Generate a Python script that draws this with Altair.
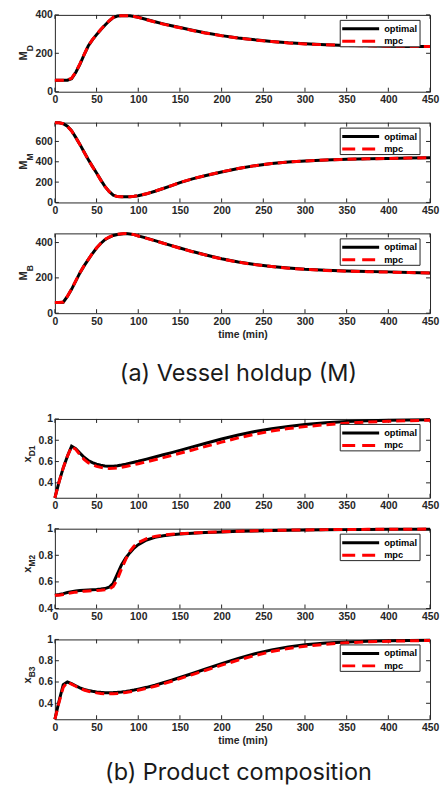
import altair as alt
import pandas as pd

# ---------------- data ----------------
T = [0, 5, 10, 15, 20, 25, 30, 35, 40, 45, 50, 55, 60, 65, 70, 75, 80, 85, 90, 95,
     100, 110, 120, 130, 140, 150, 165, 180, 200, 220, 240, 260, 280, 300, 325, 350,
     375, 400, 425, 450]

MD_OPT = [60, 60, 60, 60, 68, 100, 143, 192, 238, 270, 297, 323, 346, 368, 386, 394,
          396, 396, 395, 392, 388, 376, 364, 353, 343, 334, 320, 307, 292, 280, 270,
          262, 255, 250, 245, 241, 239, 237, 236, 235]
MD_MPC = [60, 60, 60, 61, 70, 102, 145, 193, 238, 271, 298, 324, 347, 369, 387, 395,
          396, 396, 395, 392, 387, 375, 363, 352, 342, 333, 319, 306, 291, 279, 269,
          261, 254, 249, 244, 241, 239, 237, 236, 235]

MM_OPT = [785, 783, 775, 750, 705, 640, 571, 497, 423, 355, 290, 222, 158, 108, 72, 58,
          56, 56, 57, 60, 66, 85, 110, 137, 165, 195, 232, 262, 300, 333, 362, 383,
          398, 408, 418, 424, 429, 433, 436, 439]
MM_MPC = [785, 783, 774, 748, 703, 638, 569, 495, 421, 353, 288, 220, 157, 107, 71, 58,
          56, 56, 57, 60, 67, 86, 111, 138, 166, 196, 233, 263, 301, 334, 362, 383,
          398, 408, 418, 424, 429, 433, 436, 439]

MB_OPT = [60, 60, 62, 95, 135, 182, 228, 268, 303, 338, 369, 395, 416, 430, 440, 446,
          449, 451, 449, 445, 438, 425, 411, 397, 383, 369, 349, 331, 308, 290, 276,
          265, 256, 249, 243, 239, 236, 234, 231, 228]
MB_MPC = [60, 60, 63, 96, 136, 183, 229, 269, 304, 339, 370, 396, 417, 431, 441, 447,
          450, 451, 449, 445, 437, 424, 410, 396, 382, 368, 348, 330, 307, 289, 275,
          264, 255, 248, 242, 238, 235, 233, 230, 228]

XD_OPT = [0.26, 0.41, 0.54, 0.65, 0.745, 0.72, 0.68, 0.64, 0.61, 0.59, 0.575, 0.565,
          0.558, 0.555, 0.556, 0.56, 0.567, 0.575, 0.585, 0.594, 0.603, 0.623, 0.643,
          0.664, 0.684, 0.705, 0.738, 0.770, 0.812, 0.850, 0.882, 0.908, 0.930, 0.948,
          0.964, 0.975, 0.982, 0.987, 0.990, 0.992]
XD_MPC = [0.26, 0.41, 0.54, 0.65, 0.74, 0.715, 0.665, 0.62, 0.59, 0.57, 0.555, 0.545,
          0.538, 0.535, 0.536, 0.54, 0.546, 0.553, 0.562, 0.571, 0.580, 0.598, 0.617,
          0.637, 0.657, 0.678, 0.709, 0.740, 0.782, 0.822, 0.857, 0.886, 0.910, 0.928,
          0.946, 0.960, 0.970, 0.978, 0.984, 0.988]

XM_OPT = [0.50, 0.505, 0.512, 0.52, 0.527, 0.532, 0.535, 0.537, 0.539, 0.541, 0.543,
          0.546, 0.55, 0.56, 0.59, 0.66, 0.73, 0.78, 0.82, 0.855, 0.88, 0.915, 0.935,
          0.947, 0.955, 0.96, 0.966, 0.971, 0.976, 0.980, 0.983, 0.986, 0.988, 0.99,
          0.992, 0.993, 0.994, 0.995, 0.996, 0.996]
XM_MPC = [0.50, 0.50, 0.505, 0.512, 0.518, 0.523, 0.527, 0.53, 0.532, 0.534, 0.536,
          0.538, 0.541, 0.545, 0.565, 0.62, 0.70, 0.77, 0.83, 0.87, 0.895, 0.925, 0.942,
          0.952, 0.958, 0.962, 0.967, 0.972, 0.977, 0.981, 0.984, 0.987, 0.989, 0.991,
          0.993, 0.994, 0.995, 0.996, 0.996, 0.997]

XB_OPT = [0.25, 0.42, 0.575, 0.60, 0.585, 0.565, 0.545, 0.53, 0.52, 0.513, 0.507, 0.503,
          0.50, 0.50, 0.501, 0.503, 0.507, 0.512, 0.518, 0.525, 0.533, 0.55, 0.57, 0.593,
          0.617, 0.642, 0.68, 0.72, 0.772, 0.822, 0.866, 0.902, 0.930, 0.950, 0.966,
          0.977, 0.984, 0.988, 0.991, 0.993]
XB_MPC = [0.25, 0.41, 0.55, 0.60, 0.58, 0.56, 0.54, 0.525, 0.513, 0.505, 0.498, 0.493,
          0.49, 0.489, 0.49, 0.493, 0.497, 0.502, 0.508, 0.515, 0.523, 0.54, 0.56, 0.583,
          0.607, 0.632, 0.67, 0.708, 0.758, 0.806, 0.849, 0.886, 0.915, 0.936, 0.955,
          0.968, 0.977, 0.983, 0.987, 0.990]

X_TICKS = [0, 50, 100, 150, 200, 250, 300, 350, 400, 450]
X_TITLE = "time (min)"
LEGEND = ["optimal", "mpc"]
CAPTIONS = ["(a) Vessel holdup (M)", "(b) Product composition"]
Y_MAIN = ["M", "M", "M", "x", "x", "x"]
Y_SUB = ["D", "M", "B", "D1", "M2", "B3"]
Y_TICKS = [[0, 200, 400], [0, 200, 400, 600], [0, 200, 400],
           [0.4, 0.6, 0.8, 1], [0.4, 0.6, 0.8, 1], [0.4, 0.6, 0.8, 1]]
Y_DOMAINS = [[0, 400], [0, 785], [0, 452], [0.26, 1], [0.4, 1], [0.25, 1]]
SERIES = [(MD_OPT, MD_MPC), (MM_OPT, MM_MPC), (MB_OPT, MB_MPC),
          (XD_OPT, XD_MPC), (XM_OPT, XM_MPC), (XB_OPT, XB_MPC)]

# ---------------- styling ----------------
W = 376
HEIGHTS = [77, 80, 80, 79, 80, 80]
INK = "#262626"
FONT = "Liberation Sans"
ONE = pd.DataFrame({"k": [0]})


def panel(i):
    h = HEIGHTS[i]
    opt, mpc = SERIES[i]
    n = len(T)
    df = pd.DataFrame({"t": T + T, "v": opt + mpc,
                       "s": [LEGEND[0]] * n + [LEGEND[1]] * n})
    is_m = Y_MAIN[i] == "M"
    xaxis_kw = dict(values=X_TICKS, format="d", labelFlush=False, labelPadding=3,
                    titlePadding=3)
    xaxis_kw["title"] = X_TITLE if i in (2, 5) else None
    xenc = alt.X("t:Q", scale=alt.Scale(domain=[0, 450], nice=False, zero=False),
                 axis=alt.Axis(**xaxis_kw))
    yenc = alt.Y("v:Q", scale=alt.Scale(domain=Y_DOMAINS[i], nice=False, zero=False),
                 axis=alt.Axis(values=Y_TICKS[i], format="d" if is_m else "~g",
                               title=None, labelPadding=2.5))

    base = alt.Chart(df)
    opt_line = base.transform_filter(alt.datum.s == LEGEND[0]).mark_line(
        color="#000000", strokeWidth=3).encode(x=xenc, y=yenc)
    mpc_line = base.transform_filter(alt.datum.s == LEGEND[1]).mark_line(
        color="#ff0000", strokeWidth=3, strokeDash=[9, 5]).encode(x=xenc, y=yenc)

    xt = alt.Chart(pd.DataFrame({"t": X_TICKS}))
    yt = alt.Chart(pd.DataFrame({"v": Y_TICKS[i]}))
    tick_style = dict(color=INK, strokeWidth=1)
    ticks = [
        xt.mark_rule(**tick_style).encode(x=xenc, y=alt.value(h), y2=alt.value(h - 4)),
        xt.mark_rule(**tick_style).encode(x=xenc, y=alt.value(0), y2=alt.value(4)),
        yt.mark_rule(**tick_style).encode(y=yenc, x=alt.value(0), x2=alt.value(4)),
        yt.mark_rule(**tick_style).encode(y=yenc, x=alt.value(W - 4), x2=alt.value(W)),
    ]

    c = alt.Chart(ONE)
    box = c.mark_rect(fill="white", stroke=INK, strokeWidth=1).encode(
        x=alt.value(W - 90), x2=alt.value(W - 10), y=alt.value(5.5), y2=alt.value(32))
    leg1 = c.mark_rule(color="#000000", strokeWidth=3).encode(
        x=alt.value(W - 88), x2=alt.value(W - 51), y=alt.value(14))
    leg2 = c.mark_rule(color="#ff0000", strokeWidth=3, strokeDash=[13, 7]).encode(
        x=alt.value(W - 88), x2=alt.value(W - 51), y=alt.value(26.5))
    txt_style = dict(font=FONT, fontWeight="bold", fontSize=9.3, color="#000000",
                     align="left", baseline="middle")
    t1 = c.mark_text(text=LEGEND[0], **txt_style).encode(
        x=alt.value(W - 46), y=alt.value(14))
    t2 = c.mark_text(text=LEGEND[1], **txt_style).encode(
        x=alt.value(W - 46), y=alt.value(26.5))

    ymid = h / 2 - 2
    main_x = -28 if is_m else -24
    sub_x = -21.5 if is_m else -20
    ytitle_main = c.mark_text(text=Y_MAIN[i], font=FONT, fontWeight="bold", fontSize=11,
                              color=INK, angle=270, align="right",
                              baseline="alphabetic").encode(
        x=alt.value(main_x), y=alt.value(ymid))
    ytitle_sub = c.mark_text(text=Y_SUB[i], font=FONT, fontWeight="bold", fontSize=8.5,
                             color=INK, angle=270, align="left",
                             baseline="alphabetic").encode(
        x=alt.value(sub_x), y=alt.value(ymid))

    return alt.layer(*ticks, opt_line, mpc_line, box, leg1, leg2, t1, t2,
                     ytitle_main, ytitle_sub).properties(width=W, height=h)


def spacer(text, h, y):
    return alt.Chart(ONE).mark_text(
        text=text, font="Inter", fontSize=23.5, color="#1a1a1a", align="center",
        baseline="middle").encode(x=alt.value(184), y=alt.value(y)).properties(
        width=W, height=h, view=alt.ViewBackground(strokeOpacity=0))


charts = [panel(0), panel(1), panel(2), spacer(CAPTIONS[0], 44, 30),
          panel(3), panel(4), panel(5), spacer(CAPTIONS[1], 20, 22.5)]

chart = alt.vconcat(*charts, spacing=31, bounds="flush").properties(
    padding={"top": 0, "left": 9, "right": 0, "bottom": 0},
    background="white",
).configure_view(stroke=INK, strokeWidth=1).configure_axis(
    labelFont=FONT, labelFontWeight="bold", labelFontSize=10.4, labelColor=INK,
    titleFont=FONT, titleFontWeight="bold", titleFontSize=10.4, titleColor=INK,
    domain=False, ticks=False, grid=False,
)

chart.save("out.html", embed_options={"renderer": "svg", "actions": False})
